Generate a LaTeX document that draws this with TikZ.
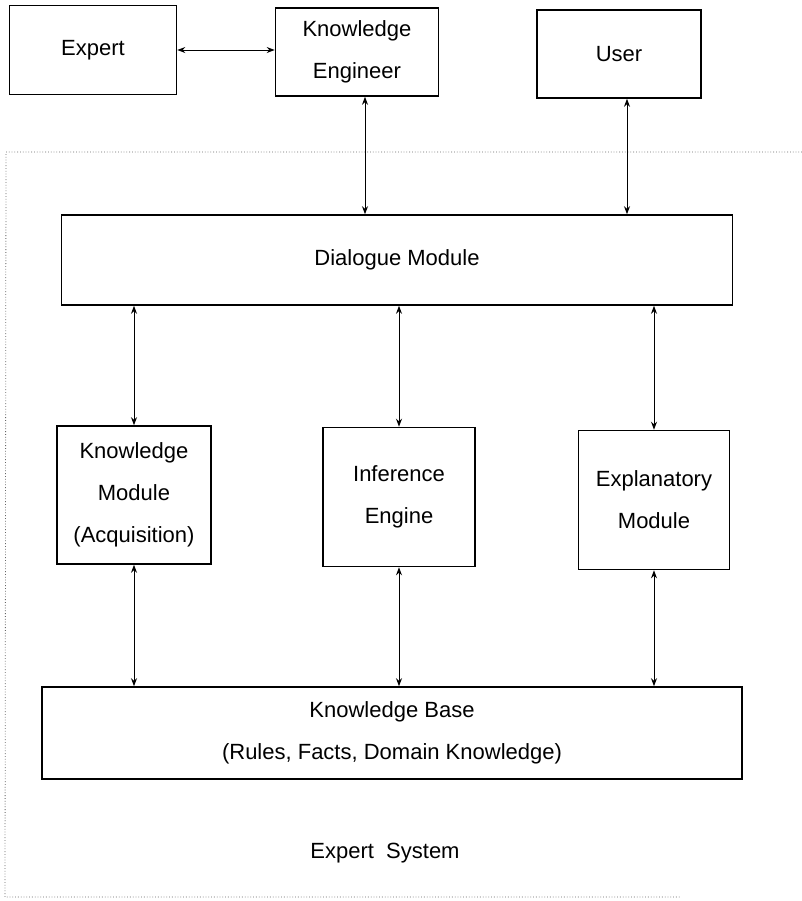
\documentclass[tikz,border=0pt]{standalone}
\usepackage{fontspec}
\setmainfont{Liberation Sans}
\usetikzlibrary{arrows.meta}

\begin{document}
\begin{tikzpicture}[x=0.5pt, y=-0.5pt,
    box/.style={draw, line width=0.8pt, align=center, inner sep=0pt,
                font=\fontsize{11}{21}\selectfont},
    link/.style={line width=0.5pt, {Stealth[length=4pt,width=3pt]}-{Stealth[length=4pt,width=3pt]}},
    frame/.style={densely dotted, line width=0.4pt, black!60}]

\useasboundingbox (0,0) rectangle (802,901);

% people outside the system
\node[box, minimum width=83.5pt, minimum height=44.5pt] (expert) at (93,50) {Expert};
\node[box, minimum width=81.5pt, minimum height=44pt] (engineer) at (357,52) {Knowledge\\Engineer};
\node[box, minimum width=82pt, minimum height=44pt] (user) at (619,54) {User};

% the system itself
\node[box, minimum width=335.5pt, minimum height=45pt] (dialogue) at (397,260) {Dialogue Module};
\node[box, minimum width=77pt, minimum height=69pt] (acquire) at (134,495) {Knowledge\\Module\\(Acquisition)};
\node[box, minimum width=76pt, minimum height=69.5pt] (inference) at (399,497) {Inference\\Engine};
\node[box, minimum width=75.5pt, minimum height=69.5pt] (explain) at (654,500) {Explanatory\\Module};
\node[box, minimum width=350pt, minimum height=46pt] (kbase) at (392,733) {Knowledge Base\\(Rules, Facts, Domain Knowledge)};
\node[font=\fontsize{11}{13}\selectfont] (sysname) at (385,853) {Expert\ \ System};

\draw[frame] (802,152) -- (6,152) -- (5,897) -- (680,897);

\draw[link] (expert.east) -- (expert.east -| engineer.west);
\draw[link] ([xshift=4pt]engineer.south) -- ([xshift=4pt]engineer.south |- dialogue.north);
\draw[link] ([xshift=4pt]user.south) -- ([xshift=4pt]user.south |- dialogue.north);

\foreach \m in {acquire, inference, explain} {
    \draw[link] (\m.north |- dialogue.south) -- (\m.north);
    \draw[link] (\m.south) -- (\m.south |- kbase.north);
}

\end{tikzpicture}
\end{document}
